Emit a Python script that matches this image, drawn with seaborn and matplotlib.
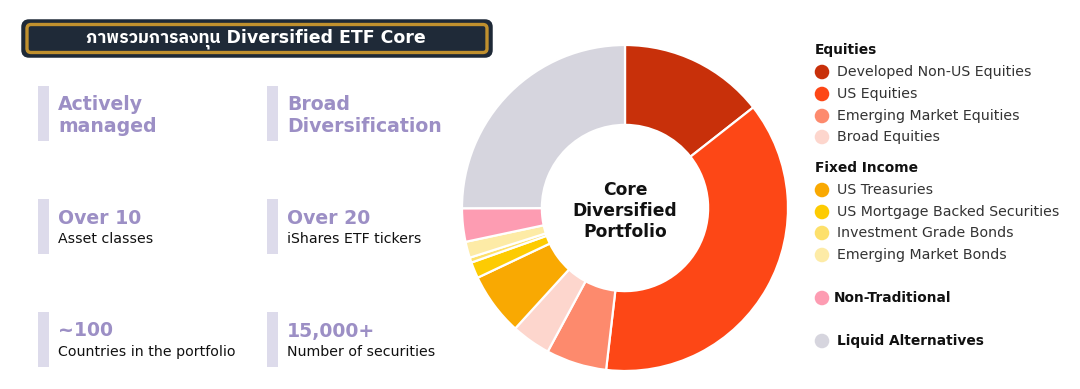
import matplotlib
matplotlib.use('Agg')
import matplotlib.pyplot as plt
import seaborn as sns
from matplotlib import font_manager
from matplotlib.ft2font import FT2Font
from matplotlib.patches import FancyBboxPatch, Rectangle

# --- data ---
segments = ['Developed Non-US Equities', 'US Equities', 'Emerging Market Equities', 'Broad Equities',
            'US Treasuries', 'US Mortgage Backed Securities', 'Investment Grade Bonds',
            'Emerging Market Bonds', 'Non-Traditional', 'Liquid Alternatives']
weights = [14.4, 37.4, 6.0, 3.9, 6.2, 1.6, 0.5, 1.6, 3.3, 25.0]
colors = ['#c8300a', '#fd4716', '#fd8a6d', '#fdd6cd', '#f9a902', '#fdcb02', '#fde06b',
          '#fdeba6', '#fd9cb2', '#d6d5de']

equity_items = segments[:4]
fixed_items = segments[4:8]

title_text = 'ภาพรวมการลงทุน Diversified ETF Core'
center_text = 'Core\nDiversified\nPortfolio'
stat_heads = ['Actively\nmanaged', 'Broad\nDiversification', 'Over 10', 'Over 20', '~100', '15,000+']
stat_subs = ['', '', 'Asset classes', 'iShares ETF tickers', 'Countries in the portfolio',
             'Number of securities']


def find_font(ch):
    # look for an installed family that has this glyph (Thai is not in DejaVu)
    cands = sorted(font_manager.fontManager.ttflist, key=lambda f: 'Thai' not in f.name)
    for f in cands:
        try:
            if ord(ch) in FT2Font(f.fname).get_charmap():
                return f.name
        except Exception:
            pass
    return None


sns.set_theme(style='white')
plt.rcParams['font.family'] = ['DejaVu Sans']
thai = find_font('ภ')
title_family = ['DejaVu Sans'] + ([thai] if thai else [])

W, H = 1080, 389
fig = plt.figure(figsize=(W / 100, H / 100), dpi=100)
fig.patch.set_facecolor('white')

# overlay in pixel coordinates
ov = fig.add_axes([0, 0, 1, 1])
ov.set_xlim(0, W)
ov.set_ylim(H, 0)
ov.axis('off')

# title banner
ov.add_patch(FancyBboxPatch((23, 21), 468, 35, boxstyle='round,pad=0,rounding_size=6',
                            facecolor='#1e2937', edgecolor='#1e2937', linewidth=2.5))
ov.add_patch(FancyBboxPatch((27, 24.5), 460, 28, boxstyle='round,pad=0,rounding_size=4',
                            facecolor='#1f2a38', edgecolor='#c0902e', linewidth=2.4))
ov.text(256, 39, title_text, color='white', fontsize=12.5, fontweight='bold',
        ha='center', va='center', family=title_family)

# stat blocks
purple = '#9c8fc5'
col_x = [38, 267]
row_y = [86, 199, 312]
for i, (head, sub) in enumerate(zip(stat_heads, stat_subs)):
    x = col_x[i % 2]
    y = row_y[i // 2]
    ov.add_patch(Rectangle((x, y), 11, 55, facecolor='#dddbeb', edgecolor='none'))
    if sub:
        ov.text(x + 20, y + 19, head, color=purple, fontsize=13.6, fontweight='bold', va='center')
        ov.text(x + 20, y + 40, sub, color='#111111', fontsize=10.2, va='center')
    else:
        ov.text(x + 20, y + 29, head, color=purple, fontsize=13.6, fontweight='bold', va='center',
                linespacing=1.2)

# donut
cx, cy, r = 625, 208, 163
pax = fig.add_axes([(cx - r) / W, (H - cy - r) / H, 2 * r / W, 2 * r / H])
pax.pie(weights, colors=colors, startangle=90, counterclock=False, radius=1,
        wedgeprops=dict(width=0.49, edgecolor='white', linewidth=1.6))
pax.set_xlim(-1, 1)
pax.set_ylim(-1, 1)
pax.text(0, -0.02, center_text, ha='center', va='center', fontsize=12.3, fontweight='heavy',
         color='#111111', linespacing=1.22)

# legend
leg_fs = 10.2
lx_dot, lx_txt = 822, 837
ov.text(815, 50, 'Equities', fontsize=leg_fs - 0.3, fontweight='bold', color='#111111', va='center')
ov.text(815, 168, 'Fixed Income', fontsize=leg_fs - 0.3, fontweight='bold', color='#111111',
        va='center')
eq_y = [72, 94, 116, 137]
fi_y = [190, 212, 233, 255]
for names, ys in [(equity_items, eq_y), (fixed_items, fi_y)]:
    for n, y in zip(names, ys):
        ov.scatter([lx_dot], [y], s=110, color=colors[segments.index(n)], edgecolor='none')
        ov.text(lx_txt, y, n, fontsize=leg_fs, color='#333333', va='center')
for n, y in [('Non-Traditional', 298), ('Liquid Alternatives', 341)]:
    ov.scatter([lx_dot], [y], s=110, color=colors[segments.index(n)], edgecolor='none')
    ov.text(lx_txt - 3 if n == 'Non-Traditional' else lx_txt, y, n, fontsize=leg_fs - 0.3,
            fontweight='bold', color='#111111', va='center')

fig.savefig('out.png', dpi=100, facecolor='white')
